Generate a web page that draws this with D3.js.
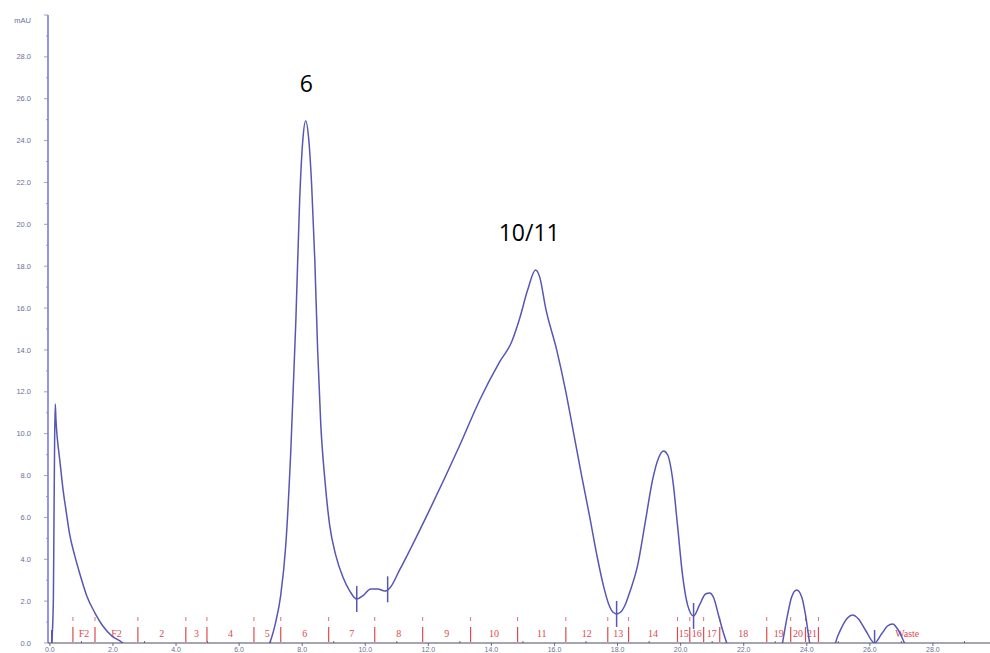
<!DOCTYPE html>
<html>
<head>
<meta charset="utf-8">
<script src="https://cdn.jsdelivr.net/npm/d3@7"></script>
<style>
  html, body { margin: 0; padding: 0; background: #ffffff; }
  svg { display: block; }
</style>
</head>
<body>
<svg id="chart" width="990" height="653"></svg>
<script>
// ---- data (retention time in min, absorbance in mAU) ----
const times = [0.06, 0.11, 0.13, 0.15, 0.17, 0.19, 0.22, 0.25, 0.32, 0.41, 0.51, 0.63, 0.79, 0.95, 1.17, 1.43, 1.68, 1.97, 2.22, 2.41,
  4.75, 6.72, 6.97, 7.16, 7.32, 7.48, 7.64, 7.80, 7.92, 8.02, 8.11, 8.21, 8.30, 8.40, 8.49, 8.59, 8.72, 8.87, 9.07, 9.29, 9.51, 9.73,
  9.95, 10.17, 10.40, 10.62, 10.78, 11.09, 12.04, 13.00, 13.63, 14.26, 14.64, 14.90, 15.15,
  15.40, 15.53, 15.72, 16.07, 16.36, 16.61, 16.86, 17.12, 17.37, 17.55, 17.72, 17.85, 17.97, 18.10, 18.25, 18.38, 18.64, 18.89,
  19.11, 19.30, 19.46, 19.59, 19.75, 19.90, 20.06, 20.22, 20.41, 20.60, 20.79, 20.92, 21.05, 21.20, 21.33, 21.46, 21.65, 23.07, 23.23,
  23.39, 23.52, 23.68, 23.84, 23.96, 24.09, 24.25, 24.75, 24.91, 25.10, 25.29, 25.45, 25.64, 25.86, 26.15, 26.37, 26.56, 26.72, 26.88,
  27.04, 27.16, 27.32];
const absorbance = [0, 2.05, 5.88, 9.70, 11.42, 10.75, 10.03, 9.56, 8.65, 7.41, 6.35, 5.16, 4.16, 3.30, 2.25, 1.43, 0.81, 0.33, 0.10, -0.10,
  -0.80, -0.57, 0, 1.00, 2.29, 4.68, 9.22, 15.43, 21.17, 24.03, 24.94, 24.03, 21.88, 18.30, 14.00, 10.42, 7.79, 5.64, 4.16, 3.15, 2.48, 2.10,
  2.29, 2.58, 2.58, 2.48, 2.63, 3.49, 6.36, 9.46, 11.61, 13.43, 14.38, 15.53, 16.87,
  17.82, 17.49, 16.00, 14.00, 12.00, 10.00, 8.00, 6.00, 4.00, 2.75, 1.85, 1.48, 1.39, 1.48, 1.85, 2.40, 3.73, 5.88,
  7.79, 8.84, 9.17, 8.98, 7.79, 5.64, 3.25, 1.82, 1.29, 1.82, 2.34, 2.39, 2.15, 1.34, 0.62, 0, -1.05, -1.29, 0,
  1.34, 2.20, 2.53, 2.20, 1.34, 0, -1.29, -1.29, 0, 0.72, 1.19, 1.34, 1.15, 0.62, 0, 0.43, 0.81, 0.91, 0.67,
  0.19, -0.24, -1.05];

// peak delimiter marks (retention times)
const peakMarks = [0.06, 9.73, 10.71, 17.97, 20.41, 26.15];

// fraction collector boundaries and labels
const fractionBounds = [0.73, 1.43, 2.79, 4.31, 4.98, 6.47, 7.32, 8.84, 10.30, 11.82, 13.34, 14.83, 16.36, 17.69, 18.35, 19.90, 20.29, 20.73, 21.24, 22.73, 23.49, 23.96, 24.37];
const fractionLabels = ["F2", "F2", "2", "3", "4", "5", "6", "7", "8", "9", "10", "11", "12", "13", "14", "15", "16", "17", "18", "19", "20", "21", "Waste"];

// annotations
const annotTimes = [8.13, 15.2];
const annotPeaks = [24.94, 17.82];
const annotTexts = ["6", "10/11"];

// axis ticks
const xTicks = [0, 2, 4, 6, 8, 10, 12, 14, 16, 18, 20, 22, 24, 26, 28, 30];
const yTicks = [0, 2, 4, 6, 8, 10, 12, 14, 16, 18, 20, 22, 24, 26, 28];
const yUnit = "mAU";

// ---- drawing ----
const svg = d3.select("#chart");
const W = 990, H = 653;
const x = d3.scaleLinear().domain([-0.06, 30]).range([48, 996]);
const y = d3.scaleLinear().domain([0, 30]).range([643, 15]);

const axisColor = "#7b7be0";
const labelColor = "#6a7098";
const curveColor = "#5656b4";
const fracColor = "#dc4a4e";

svg.append("rect").attr("width", W).attr("height", H).attr("fill", "#ffffff");

const defs = svg.append("defs");
defs.append("clipPath").attr("id", "plotclip")
  .append("rect").attr("x", x.range()[0]).attr("y", 0)
  .attr("width", W).attr("height", y(0));

// Y axis
const yAxisG = svg.append("g");
yAxisG.append("line")
  .attr("x1", x.range()[0]).attr("x2", x.range()[0])
  .attr("y1", y(30)).attr("y2", y(0))
  .attr("stroke", axisColor).attr("stroke-width", 1.6);
const yMinor = d3.range(1, 30, 2);
yAxisG.selectAll(".ymin").data(yMinor).enter().append("line")
  .attr("x1", x.range()[0] - 2).attr("x2", x.range()[0])
  .attr("y1", d => y(d)).attr("y2", d => y(d))
  .attr("stroke", "#8a8aa8").attr("stroke-width", 0.8);
yAxisG.selectAll(".ymaj").data(yTicks.concat([30])).enter().append("line")
  .attr("x1", x.range()[0] - 4).attr("x2", x.range()[0])
  .attr("y1", d => y(d)).attr("y2", d => y(d))
  .attr("stroke", "#8a8aa8").attr("stroke-width", 0.8);
yAxisG.selectAll(".ylab").data(yTicks).enter().append("text")
  .attr("x", 31).attr("y", d => y(d))
  .attr("dy", "0.35em")
  .attr("text-anchor", "end")
  .attr("font-family", "Liberation Sans, Arial, sans-serif")
  .attr("font-size", 7.5)
  .attr("fill", labelColor)
  .text(d => d.toFixed(1));
yAxisG.append("text")
  .attr("x", 31).attr("y", y(30) + 5)
  .attr("dy", "0.35em")
  .attr("text-anchor", "end")
  .attr("font-family", "Liberation Sans, Arial, sans-serif")
  .attr("font-size", 7.5)
  .attr("fill", labelColor)
  .text(yUnit);

// X axis
const xAxisG = svg.append("g");
xAxisG.append("line")
  .attr("x1", x.range()[0]).attr("x2", W)
  .attr("y1", y(0)).attr("y2", y(0))
  .attr("stroke", "#4a4a66").attr("stroke-width", 1);
xAxisG.selectAll(".xmaj").data(xTicks).enter().append("line")
  .attr("x1", d => x(d)).attr("x2", d => x(d))
  .attr("y1", y(0)).attr("y2", y(0) + 3)
  .attr("stroke", "#4a4a66").attr("stroke-width", 0.8);
xAxisG.selectAll(".xmin").data(d3.range(1, 30, 2)).enter().append("line")
  .attr("x1", d => x(d)).attr("x2", d => x(d))
  .attr("y1", y(0) - 2).attr("y2", y(0))
  .attr("stroke", "#4a4a66").attr("stroke-width", 0.8);
xAxisG.selectAll(".xlab").data(xTicks.filter(d => x(d) < W - 8)).enter().append("text")
  .attr("x", d => x(d)).attr("y", 651.5)
  .attr("text-anchor", "middle")
  .attr("font-family", "Liberation Sans, Arial, sans-serif")
  .attr("font-size", 7)
  .attr("fill", labelColor)
  .text(d => d.toFixed(1));

// Fractions
const fracG = svg.append("g");
fracG.selectAll(".fline").data(fractionBounds).enter().append("line")
  .attr("x1", d => x(d)).attr("x2", d => x(d))
  .attr("y1", y(0) - 16).attr("y2", y(0) - 1)
  .attr("stroke", fracColor).attr("stroke-width", 1.2);
fracG.selectAll(".ftick").data(fractionBounds).enter().append("line")
  .attr("x1", d => x(d)).attr("x2", d => x(d))
  .attr("y1", y(0) - 26).attr("y2", y(0) - 22)
  .attr("stroke", fracColor).attr("stroke-width", 0.8);
const fracEnds = fractionBounds.slice(1).concat([30]);
fracG.selectAll(".flab").data(fractionLabels).enter().append("text")
  .attr("x", (d, i) => (x(fractionBounds[i]) + x(fracEnds[i])) / 2)
  .attr("y", y(0) - 6)
  .attr("text-anchor", "middle")
  .attr("font-family", "Liberation Serif, Times New Roman, serif")
  .attr("font-size", 10)
  .attr("fill", fracColor)
  .text(d => d);

// Curve
const pts = times.map((t, i) => [t, absorbance[i]]);
const line = d3.line().x(d => x(d[0])).y(d => y(d[1])).curve(d3.curveMonotoneX);
const plotG = svg.append("g").attr("clip-path", "url(#plotclip)");
plotG.append("path")
  .attr("d", line(pts))
  .attr("fill", "none")
  .attr("stroke", curveColor)
  .attr("stroke-width", 1.5)
  .attr("stroke-linejoin", "round");

// Peak delimiter marks (value interpolated from data)
function valueAt(t) {
  const i = d3.bisector(d => d).left(times, t);
  if (i <= 0) return absorbance[0];
  if (i >= times.length) return absorbance[times.length - 1];
  const t0 = times[i - 1], t1 = times[i];
  const f = (t - t0) / (t1 - t0);
  return absorbance[i - 1] + f * (absorbance[i] - absorbance[i - 1]);
}
plotG.selectAll(".pmark").data(peakMarks).enter().append("line")
  .attr("x1", d => x(d)).attr("x2", d => x(d))
  .attr("y1", d => y(valueAt(d) + 0.62)).attr("y2", d => y(valueAt(d) - 0.62))
  .attr("stroke", curveColor).attr("stroke-width", 1.5);

// Annotations
svg.selectAll(".annot").data(annotTexts).enter().append("text")
  .attr("x", (d, i) => x(annotTimes[i]))
  .attr("y", (d, i) => y(annotPeaks[i]) - 29)
  .attr("text-anchor", "middle")
  .attr("font-family", "Open Sans, Liberation Sans, sans-serif")
  .attr("font-size", 23)
  .attr("fill", "#000000")
  .text(d => d);
</script>
</body>
</html>
